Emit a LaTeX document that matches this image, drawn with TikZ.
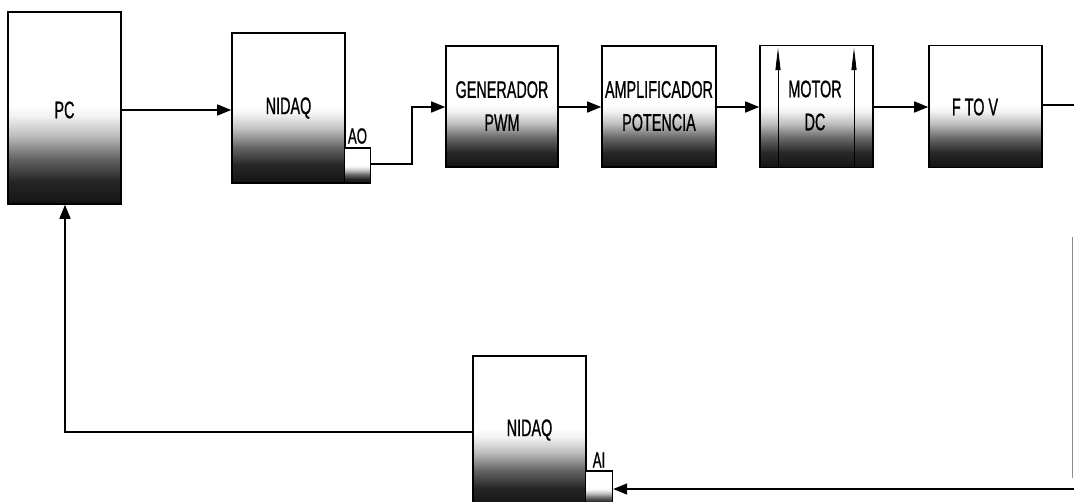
\documentclass[tikz,border=0pt]{standalone}
\usepackage{fontspec}
\setmainfont{Liberation Sans}[FakeStretch=0.6,FakeBold=0.8]
\usetikzlibrary{arrows.meta}
\pgfdeclareverticalshading{boxshade}{100bp}{color(0bp)=(black!92); color(25bp)=(black!92); color(31bp)=(black!85); color(37bp)=(black!60); color(43bp)=(black!25); color(48bp)=(black!5); color(51bp)=(white); color(100bp)=(white)}
\tikzset{
  blk/.style={draw=black, line width=1.6pt, shading=boxshade, shade, inner sep=0pt},
  port/.style={draw=black, line width=1.4pt, shading=boxshade, shade, inner sep=0pt, minimum width=26pt, minimum height=35pt},
  plabel/.style={font=\fontsize{22}{24}\selectfont, inner sep=0pt},
  txt/.style={font=\fontsize{24}{33}\selectfont, align=center, inner sep=0pt},
  conn/.style={line width=1.5pt, draw=black},
  arr/.style={conn, -{Triangle[length=14pt,width=11pt]}},
  inarr/.style={line width=0.8pt, -{Triangle[length=22pt,width=5pt]}}
}
\begin{document}
\begin{tikzpicture}[x=1pt,y=-1pt]
\useasboundingbox (0,0) rectangle (1074,501);
\clip (0,0) rectangle (1074,501);
\fill[white] (0,0) rectangle (1074,501);
% blocks
\node[blk, minimum width=113pt, minimum height=192pt] (pc) at (64.5,108) {};
\node[txt] (pct) at (64.5,110) {PC};
\node[blk, minimum width=113pt, minimum height=150pt] (nd1) at (288.5,108) {};
\node[txt] (nd1t) at (288.5,108) {NIDAQ};
\node[port] (ao) at (357.5,165.5) {};
\node[plabel] (aot) at (357.5,136) {AO};
\node[blk, minimum width=112pt, minimum height=121pt] (gen) at (502,106.5) {};
\node[txt] (gent) at (502,106) {GENERADOR\\PWM};
\node[blk, minimum width=114pt, minimum height=121pt] (amp) at (659,106.5) {};
\node[txt] (ampt) at (659,106) {AMPLIFICADOR\\POTENCIA};
\node[blk, minimum width=113pt, minimum height=122pt] (mot) at (816.5,106.5) {};
\node[txt] (mott) at (815,105.5) {MOTOR\\DC};
\node[blk, minimum width=113pt, minimum height=122pt] (ftv) at (985.5,106.5) {};
\node[txt] (ftvt) at (975,107) {F TO V};
\node[blk, minimum width=113pt, minimum height=150pt] (nd2) at (529.5,431) {};
\node[txt] (nd2t) at (529.5,430) {NIDAQ};
\node[port, minimum width=27pt] (ai) at (599,488.5) {};
\node[plabel] (ait) at (599,460) {AI};
% arrows inside motor
\coordinate (m1b) at (778,167.5);
\coordinate (m1t) at (778,48);
\coordinate (m2b) at (854,167.5);
\coordinate (m2t) at (854,48);
\draw[inarr] (m1b) -- (m1t);
\draw[inarr] (m2b) -- (m2t);
% connectors
\draw[arr] (pc.east |- 0,110) -- (nd1.west |- 0,110);
\coordinate (k1) at (412,164);
\coordinate (k2) at (412,107);
\draw[arr] (ao.east |- k1) -- (k1) -- (k2) -- (gen.west |- k2);
\draw[arr] (gen.east |- 0,107) -- (amp.west |- 0,107);
\draw[arr] (amp.east |- 0,107) -- (mot.west |- 0,107);
\draw[arr] (mot.east |- 0,107) -- (ftv.west |- 0,107);
\coordinate (r1) at (1076,105);
\draw[conn] (ftv.east |- r1) -- (r1);
\coordinate (v1) at (1072.5,237);
\coordinate (v2) at (1072.5,478);
\draw[line width=0.8pt, draw=black!45] (v1) -- (v2);
\coordinate (r2) at (1076,489);
\draw[arr] (r2) -- (ai.east |- r2);
\coordinate (f1) at (65,432);
\draw[arr] (nd2.west |- f1) -- (f1) -- (pc.south -| f1);
\end{tikzpicture}
\end{document}
